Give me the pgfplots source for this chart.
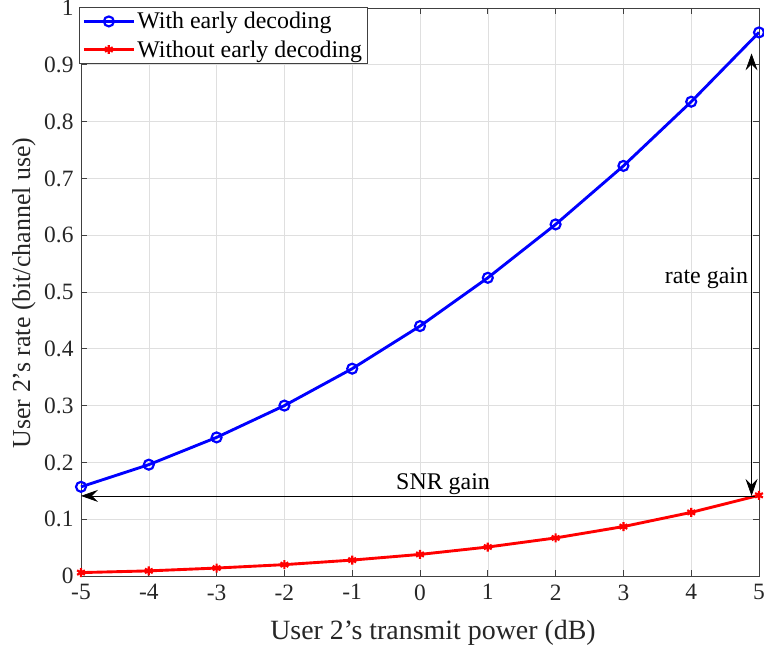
\documentclass[border=0pt]{standalone}
\usepackage{pgfplots}
\pgfplotsset{compat=1.18}
\usepackage{fontspec}
\setmainfont{Liberation Serif}
\usetikzlibrary{arrows.meta}
\begin{document}
\begin{tikzpicture}
\begin{axis}[
  scale only axis,
  width=678bp, height=568bp,
  xmin=-5, xmax=5, ymin=0, ymax=1,
  xtick={-5,-4,...,5},
  ytick={0,0.1,...,1},
  yticklabels={0,0.1,0.2,0.3,0.4,0.5,0.6,0.7,0.8,0.9,1},
  tick align=inside,
  tick pos=both,
  grid=major,
  major grid style={gray!25, line width=0.6pt},
  axis line style={black!75, line width=0.8pt},
  major tick style={black!75, line width=0.8pt},
  major tick length=6bp,
  xticklabel style={font=\fontsize{23.5}{26}\selectfont, text=black!85, yshift=-5bp},
  yticklabel style={font=\fontsize{23.5}{26}\selectfont, text=black!85, xshift=-4bp},
  /pgf/number format/assume math mode=true,
  xlabel={User 2's transmit power (dB)},
  ylabel={User 2's rate (bit/channel use)},
  xlabel style={font=\fontsize{28}{32}\selectfont, text=black!85, at={([xshift=13bp,yshift=-57bp]rel axis cs:0.5,0)}, anchor=center},
  ylabel style={font=\fontsize{26}{30}\selectfont, text=black!85, at={([xshift=-57bp,yshift=-1bp]rel axis cs:0,0.5)}, anchor=center},
  legend style={at={([xshift=-2bp,yshift=1bp]rel axis cs:0,1)}, anchor=north west, font=\fontsize{24}{27}\selectfont, draw=black!75, line width=0.8pt, inner sep=3bp, row sep=6bp, cells={anchor=west}},
  legend image code/.code={\draw[mark repeat=2,mark phase=2,#1] plot coordinates {(0bp,0bp) (25bp,0bp) (50bp,0bp)};},
  legend cell align=left,
  clip=false,
]
\addplot[blue, line width=2.9pt, mark=o, mark size=5pt, mark options={line width=2.2pt}] coordinates {
(-5,0.157) (-4,0.196) (-3,0.244) (-2,0.300) (-1,0.365) (0,0.440) (1,0.525) (2,0.619) (3,0.722) (4,0.835) (5,0.957)};
\addlegendentry{With early decoding}
\addplot[red, line width=2.9pt, mark=asterisk, mark size=4.5pt, mark options={line width=2.2pt}] coordinates {
(-5,0.006) (-4,0.009) (-3,0.014) (-2,0.020) (-1,0.028) (0,0.038) (1,0.051) (2,0.067) (3,0.087) (4,0.112) (5,0.142)};
\addlegendentry{Without early decoding}
\draw[black, line width=0.7pt, -{Stealth[length=17bp, width=12bp, inset=6bp]}] (axis cs:5,0.141) -- (axis cs:-5,0.141);
\draw[black, line width=0.7pt, {Stealth[length=17bp, width=12bp, inset=6bp]}-{Stealth[length=17bp, width=12bp, inset=6bp]}] (axis cs:4.89,0.141) -- (axis cs:4.89,0.92);
\node[font=\fontsize{24}{27}\selectfont, anchor=base, inner sep=0pt] at (axis cs:0.34,0.152) {SNR gain};
\node[font=\fontsize{24}{27}\selectfont, anchor=east, inner sep=0pt] at (axis cs:4.84,0.524) {rate gain};
\coordinate (bl) at (rel axis cs:0,0);
\coordinate (tr) at (rel axis cs:1,1);
\end{axis}
\pgfresetboundingbox
\path ([xshift=-81bp,yshift=-76bp]bl) rectangle ([xshift=5bp,yshift=8bp]tr);
\end{tikzpicture}
\end{document}
